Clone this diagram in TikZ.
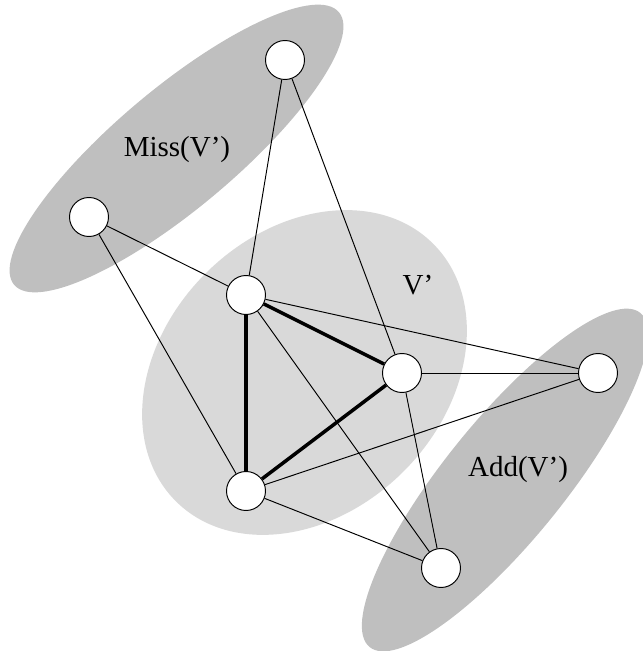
\documentclass[tikz,border=0pt]{standalone}
\usepackage{fontspec}
\setmainfont{Liberation Serif}
\usepackage{tikz}
\usetikzlibrary{shapes}

\begin{document}
\begin{tikzpicture}[line width=0.55pt,
	vertex/.style={circle,draw,fill=white,minimum size=0.78cm,inner sep=0pt},
	heavy/.style={line width=2pt},
	label/.style={font=\fontsize{16.5}{19}\selectfont}]
	\useasboundingbox (0,0) rectangle (12.84,13.02);
	\fill[black!25,rotate around={40:(3.53,10.05)}] (3.53,10.05) ellipse (4.24 and 1.2);
	\fill[black!25,rotate around={51:(10.10,3.42)}] (10.10,3.42) ellipse (4.3 and 1.2);
	\fill[black!15,rotate around={45:(6.09,5.57)}] (6.09,5.57) ellipse (3.64 and 2.8);
	%
	\node[label] (missl) at (3.54,10.02) {Miss(V’)};
	\node[label] (vl) at (8.36,7.32) {V’};
	\node[label] (addl) at (10.36,3.62) {Add(V’)};
	%
	\node[vertex] (m1) at (5.70,11.82) {};
	\node[vertex] (m2) at (1.78,8.68) {};
	\node[vertex] (v1) at (4.92,7.12) {};
	\node[vertex] (v2) at (8.04,5.56) {};
	\node[vertex] (v3) at (4.92,3.20) {};
	\node[vertex] (a1) at (11.96,5.56) {};
	\node[vertex] (a2) at (8.82,1.66) {};
	%
	\draw (m1) -- (v1);
	\draw (m1) -- (v2);
	\draw (m2) -- (v1);
	\draw (m2) -- (v3);
	\draw (v1) -- (a1);
	\draw (v1) -- (a2);
	\draw (v2) -- (a1);
	\draw (v2) -- (a2);
	\draw (v3) -- (a1);
	\draw (v3) -- (a2);
	%
	\draw [heavy] (v1) -- (v2);
	\draw [heavy] (v1) -- (v3);
	\draw [heavy] (v2) -- (v3);
\end{tikzpicture}
\end{document}
